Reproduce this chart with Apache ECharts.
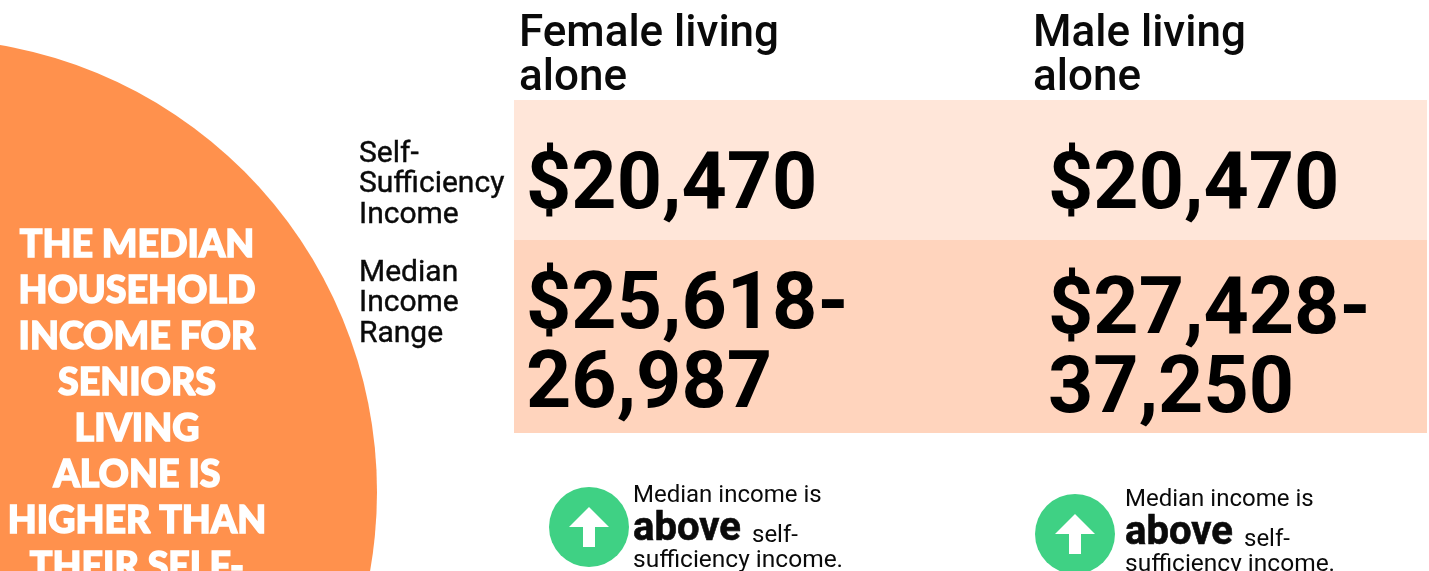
<!DOCTYPE html>
<html><head><meta charset="utf-8">
<style>html,body{margin:0;padding:0;background:#fff}#c{width:1429px;height:571px}</style>
<script src="https://cdn.jsdelivr.net/npm/echarts@6/dist/echarts.min.js"></script>
</head><body><div id="c"></div>
<script>
const titleLines = ["THE MEDIAN","HOUSEHOLD","INCOME FOR","SENIORS","LIVING","ALONE IS","HIGHER THAN","THEIR SELF-"];
const columnHeads = [["Female living","alone"],["Male living","alone"]];
const rowHeads = [["Self-","Sufficiency","Income"],["Median","Income","Range"]];
const selfSufficiency = ["$20,470","$20,470"];
const medianRange = [["$25,618-","26,987"],["$27,428-","37,250"]];
const noteLines = ["Median income is","above","self-","sufficiency income."];

const F = 'Roboto';
const g = [];
function T(x,y,text,size,weight,fill,family,align,stroke){
  const style={text,fill:fill||'#0a0a0a',font:(weight||400)+' '+size+'px '+(family||F),textAlign:align||'left',textVerticalAlign:'middle'};
  if(stroke){style.stroke=fill||'#0a0a0a';style.lineWidth=stroke;}
  g.push({type:'text',x,y,silent:true,style});
}
g.push({type:'circle',shape:{cx:-76.5,cy:492,r:453.5},style:{fill:'#ff914d'}});
titleLines.forEach((t,i)=>T(137,244.5+46*i,t,37.5,900,'#fff','Lato','center',1.5));
g.push({type:'rect',shape:{x:514,y:100,width:913,height:140},style:{fill:'#ffe6d9'}});
g.push({type:'rect',shape:{x:514,y:240,width:913,height:193},style:{fill:'#ffd4bd'}});
[519,1033].forEach((x,c)=>columnHeads[c].forEach((t,i)=>T(x,35+44*i,t,44,500)));
rowHeads[0].forEach((t,i)=>T(359,154+30.5*i,t,30,400,'#0a0a0a',F,'left',0.4));
rowHeads[1].forEach((t,i)=>T(359,273+30.5*i,t,30,400,'#0a0a0a',F,'left',0.4));
T(526,188,selfSufficiency[0],79,700,'#000');
T(1048,188,selfSufficiency[1],79,700,'#000');
medianRange[0].forEach((t,i)=>T(526,308+79*i,t,79,700,'#000'));
medianRange[1].forEach((t,i)=>T(1048,313+79*i,t,79,700,'#000'));
[[589,527,633,496],[1075,534,1125,500]].forEach(([cx,cy,tx,ty])=>{
  g.push({type:'circle',shape:{cx,cy,r:40},style:{fill:'#3fd184'}});
  g.push({type:'polygon',shape:{points:[[cx,cy-20],[cx+20,cy],[cx+6,cy],[cx+6,cy+20],[cx-6,cy+20],[cx-6,cy],[cx-20,cy]]},style:{fill:'#fff'}});
  T(tx,ty,noteLines[0],24,400);
  T(tx,ty+34,noteLines[1],40,700,'#0a0a0a',F,'left',0.6);
  T(tx+119,ty+40,noteLines[2],24,400);
  T(tx,ty+65,noteLines[3],24.5,400);
});
const chart = echarts.init(document.getElementById('c'),null,{renderer:'canvas'});
chart.setOption({animation:false,backgroundColor:'#fff',graphic:{elements:g}});
</script></body></html>
